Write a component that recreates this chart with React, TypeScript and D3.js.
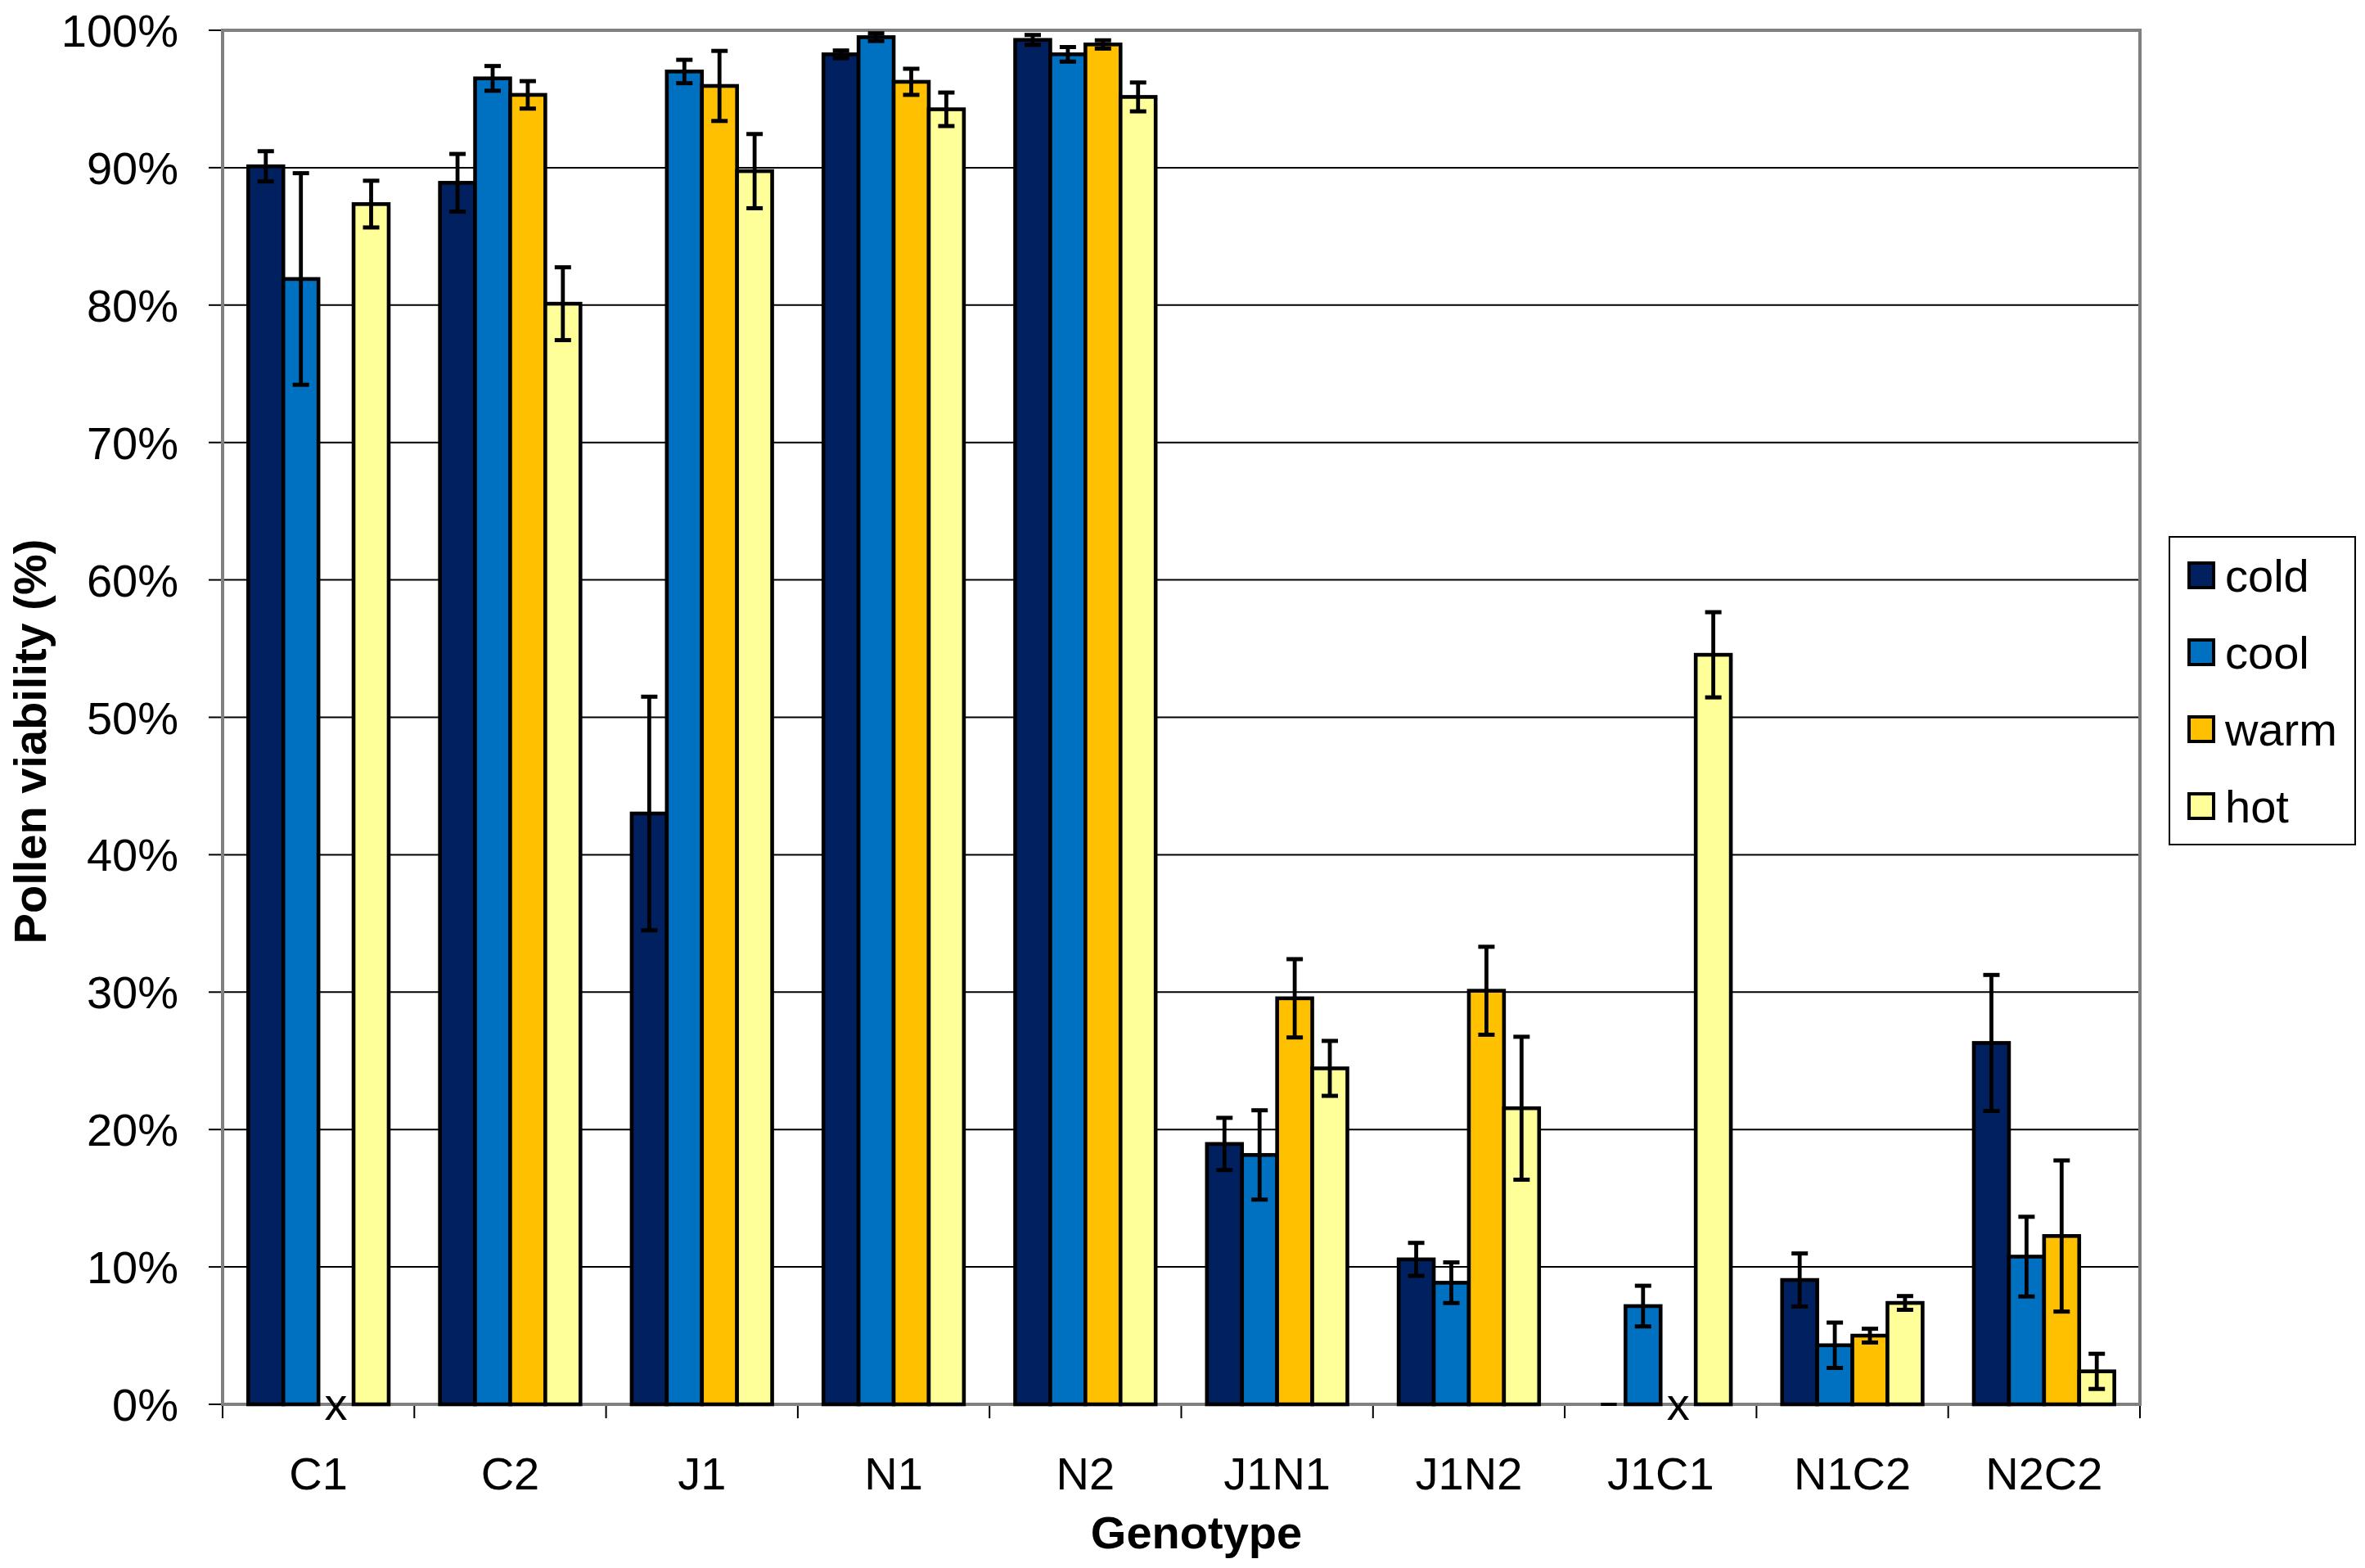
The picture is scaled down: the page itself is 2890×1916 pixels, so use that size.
import React, { useEffect } from "react";
import * as d3 from "d3";

const categories = ["C1", "C2", "J1", "N1", "N2", "J1N1", "J1N2", "J1C1", "N1C2", "N2C2"];
const seriesNames = ["cold", "cool", "warm", "hot"];
const seriesColors = ["#002060", "#0070C0", "#FFC000", "#FFFF99"];

const coldValues: (number | null)[] = [90.1, 88.9, 43.0, 98.25, 99.3, 18.95, 10.55, 0, 9.05, 26.3];
const coolValues: (number | null)[] = [81.9, 96.5, 97.0, 99.5, 98.25, 18.15, 8.85, 7.15, 4.3, 10.75];
const warmValues: (number | null)[] = [null, 95.3, 95.95, 96.25, 98.97, 29.55, 30.1, null, 5.0, 12.25];
const hotValues: (number | null)[] = [87.35, 80.1, 89.75, 94.25, 95.15, 24.45, 21.55, 54.55, 7.38, 2.4];

const coldErr = [1.1, 2.1, 8.5, 0.28, 0.36, 1.9, 1.2, 0, 1.93, 4.95];
const coolErr = [7.7, 0.9, 0.85, 0.28, 0.53, 3.25, 1.48, 1.48, 1.65, 2.9];
const warmErr = [0, 1.0, 2.55, 0.95, 0.3, 2.85, 3.2, 0, 0.5, 5.5];
const hotErr = [1.7, 2.65, 2.7, 1.22, 1.05, 2.0, 5.2, 3.1, 0.5, 1.28];

const yTicks = [0, 10, 20, 30, 40, 50, 60, 70, 80, 90, 100];

const seriesValues = [coldValues, coolValues, warmValues, hotValues];
const seriesErrs = [coldErr, coolErr, warmErr, hotErr];

const FONT = "'Liberation Sans', Arial, sans-serif";

export default function App() {
  useEffect(() => {
    document.body.style.margin = "0";
  }, []);

  const W = 2890;
  const H = 1916;
  const left = 272;
  const right = 2615;
  const top = 37;
  const bottom = 1716;

  const x = d3.scaleBand<string>().domain(categories).range([left, right]).paddingInner(0).paddingOuter(0);
  const xs = d3.scaleBand<string>().domain(seriesNames).range([0, x.bandwidth()]).paddingInner(0).paddingOuter(0.73);
  const y = d3.scaleLinear().domain([0, 100]).range([bottom, top]);

  const bw = xs.bandwidth();

  return (
    <svg width={W} height={H} style={{ display: "block", background: "#fff" }} fontFamily={FONT}>
      <rect x={0} y={0} width={W} height={H} fill="#fff" />
      {/* gridlines */}
      {yTicks.filter((t) => t > 0 && t < 100).map((t) => (
        <line key={"g" + t} x1={left} x2={right} y1={y(t)} y2={y(t)} stroke="#000" strokeWidth={2} />
      ))}
      {/* y ticks */}
      {yTicks.map((t) => (
        <g key={"yt" + t}>
          <line x1={left - 17} x2={left} y1={y(t)} y2={y(t)} stroke="#000" strokeWidth={2} />
          <text x={218} y={y(t) + 20} textAnchor="end" fontSize={56} fill="#000">
            {t + "%"}
          </text>
        </g>
      ))}
      {/* x ticks */}
      {categories.map((c) => (
        <line key={"xt" + c} x1={x(c)!} x2={x(c)!} y1={bottom} y2={bottom + 17} stroke="#000" strokeWidth={2} />
      ))}
      <line x1={right} x2={right} y1={bottom} y2={bottom + 17} stroke="#000" strokeWidth={2} />
      {/* plot border */}
      <rect x={left} y={top} width={right - left} height={bottom - top} fill="none" stroke="#808080" strokeWidth={4} />
      {/* bars */}
      {categories.map((c, ci) =>
        seriesNames.map((s, si) => {
          const v = seriesValues[si][ci];
          const bx = x(c)! + xs(s)!;
          if (v === null) {
            return (
              <text key={c + s} x={bx + bw / 2} y={bottom + 19} textAnchor="middle" fontSize={56} fill="#000">
                x
              </text>
            );
          }
          if (v === 0) {
            return (
              <line key={c + s} x1={bx + bw * 0.3} x2={bx + bw * 0.75} y1={bottom} y2={bottom} stroke="#000" strokeWidth={4} />
            );
          }
          return (
            <rect
              key={c + s}
              x={bx}
              y={y(v)}
              width={bw}
              height={bottom - y(v)}
              fill={seriesColors[si]}
              stroke="#000"
              strokeWidth={4.6}
            />
          );
        })
      )}
      {/* error bars */}
      {categories.map((c, ci) =>
        seriesNames.map((s, si) => {
          const v = seriesValues[si][ci];
          const e = seriesErrs[si][ci];
          if (v === null || !e) return null;
          const cx = x(c)! + xs(s)! + bw / 2;
          const y1 = y(v + e);
          const y2 = y(v - e);
          return (
            <g key={"e" + c + s} stroke="#000">
              <line x1={cx} x2={cx} y1={y1} y2={y2} strokeWidth={4.8} />
              <line x1={cx - 10} x2={cx + 10} y1={y1} y2={y1} strokeWidth={5} />
              <line x1={cx - 10} x2={cx + 10} y1={y2} y2={y2} strokeWidth={5} />
            </g>
          );
        })
      )}
      {/* x labels */}
      {categories.map((c) => (
        <text key={"xl" + c} x={x(c)! + x.bandwidth() / 2} y={1820} textAnchor="middle" fontSize={56} fill="#000">
          {c}
        </text>
      ))}
      {/* axis titles */}
      <text x={1462} y={1892} textAnchor="middle" fontSize={56} fontWeight="bold" fill="#000">
        Genotype
      </text>
      <text
        transform={`translate(56, 906) rotate(-90)`}
        textAnchor="middle"
        fontSize={56}
        fontWeight="bold"
        fill="#000"
      >
        Pollen viability (%)
      </text>
      {/* legend */}
      <rect x={2651} y={656} width={227} height={376} fill="#fff" stroke="#000" strokeWidth={2} />
      {seriesNames.map((s, si) => {
        const cy = 703 + si * 94;
        return (
          <g key={"lg" + s}>
            <rect x={2675} y={cy - 15} width={30} height={30} fill={seriesColors[si]} stroke="#000" strokeWidth={4} />
            <text x={2719} y={cy + 20} fontSize={56} fill="#000">
              {s}
            </text>
          </g>
        );
      })}
    </svg>
  );
}
